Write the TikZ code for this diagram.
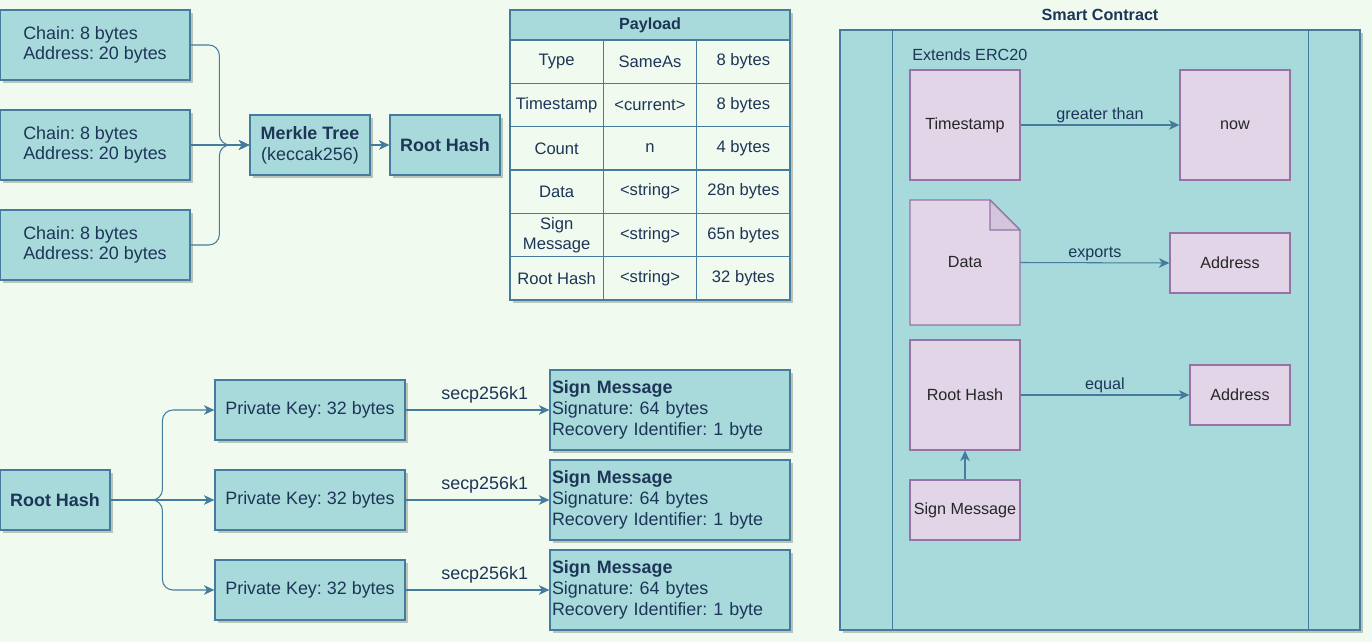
\documentclass[tikz,border=0pt]{standalone}
\usepackage{fontspec}
\setmainfont{Liberation Sans}
\usetikzlibrary{arrows.meta,shadows}
\definecolor{bgcol}{HTML}{F1FAEE}
\definecolor{tealfill}{HTML}{A8DADC}
\definecolor{tealline}{HTML}{457B9D}
\definecolor{navytext}{HTML}{1D3557}
\definecolor{lilacfill}{HTML}{E1D5E7}
\definecolor{lilacline}{HTML}{9673A6}
\definecolor{foldfill}{HTML}{D4C4DC}
\frenchspacing

\begin{document}
\begin{tikzpicture}[x=0.02cm,y=-0.02cm,
	every node/.style={text=navytext},
	shade box/.style={drop shadow={shadow xshift=1.5pt,shadow yshift=-1.5pt,opacity=0.22,fill=black}},
	tbox/.style={draw=tealline,fill=tealfill,line width=0.7pt,shade box,inner sep=0pt,font=\fontsize{10.2}{11.9}\selectfont},
	chainbox/.style={tbox,minimum width=3.8cm,minimum height=1.4cm,align=left,font=\fontsize{10.2}{11.4}\selectfont},
	keybox/.style={tbox,minimum width=3.8cm,minimum height=1.2cm},
	signbox/.style={tbox,minimum width=4.8cm,minimum height=1.6cm,text width=4.72cm,inner xsep=0.04cm,align=left},
	bold/.style={font=\fontsize{10.2}{11.9}\selectfont\bfseries},
	cell/.style={draw=tealline,line width=0.7pt,minimum width=1.8667cm,minimum height=0.8667cm,inner sep=0pt,align=center,font=\fontsize{9.45}{11.4}\selectfont},
	pbox/.style={draw=lilacline,fill=lilacfill,line width=0.7pt,inner sep=1pt,text=black!85,font=\fontsize{9.2}{11}\selectfont},
	small/.style={font=\fontsize{9.2}{11}\selectfont},
	flow/.style={draw=tealline,line width=0.6pt,-{Stealth[length=6pt,width=5.5pt,inset=1.8pt]}},
	lbl/.style={above,inner sep=1pt,small,text=navytext}
	]
	\fill[bgcol] (0,0) rectangle (1372,642);
	\useasboundingbox (0,0) rectangle (1372,642);

	% chains into the merkle tree
	\node (chaina) at (95,45) [chainbox] {Chain: 8 bytes\\Address: 20 bytes};
	\node (chainb) at (95,145) [chainbox] {Chain: 8 bytes\\Address: 20 bytes};
	\node (chainc) at (95,245) [chainbox] {Chain: 8 bytes\\Address: 20 bytes};
	\node (merkle) at (310,145) [tbox,minimum width=2.4cm,minimum height=1.2cm,align=center] {\textbf{Merkle Tree}\\(keccak256)};
	\node (roota) at (445,145) [tbox,bold,minimum width=2.2cm,minimum height=1.2cm] {Root Hash};

	\draw[flow,rounded corners=6pt] (chaina.east) -| ([xshift=-0.6cm]merkle.west) -- (merkle.west);
	\draw[flow] (chainb.east) -- (merkle.west);
	\draw[flow,rounded corners=6pt] (chainc.east) -| ([xshift=-0.6cm]merkle.west) -- (merkle.west);
	\draw[flow] (merkle.east) -- (roota.west);

	% payload table
	\node (payload) at (650,155) [cell,fill=bgcol,shade box,minimum width=5.6cm,minimum height=5.8cm] {};
	\node (head) at (650,25) [cell,fill=tealfill,minimum width=5.6cm,minimum height=0.6cm,font=\fontsize{9.2}{11}\selectfont\bfseries] {Payload};
	\node (typek) at (556.67,61.67) [cell] {Type};
	\node (typev) at (650,61.67) [cell] {SameAs};
	\node (types) at (743.33,61.67) [cell] {8 bytes};
	\node (timek) at (556.67,105) [cell] {Timestamp};
	\node (timev) at (650,105) [cell] {<current>};
	\node (times) at (743.33,105) [cell] {8 bytes};
	\node (countk) at (556.67,148.33) [cell] {Count};
	\node (countv) at (650,148.33) [cell] {n};
	\node (counts) at (743.33,148.33) [cell] {4 bytes};
	\node (datak) at (556.67,191.67) [cell] {Data};
	\node (datav) at (650,191.67) [cell] {<string>};
	\node (datas) at (743.33,191.67) [cell] {28n bytes};
	\node (signk) at (556.67,235) [cell] {Sign\\Message};
	\node (signv) at (650,235) [cell] {<string>};
	\node (signs) at (743.33,235) [cell] {65n bytes};
	\node (rootk) at (556.67,278.33) [cell] {Root Hash};
	\node (rootv) at (650,278.33) [cell] {<string>};
	\node (roots) at (743.33,278.33) [cell] {32 bytes};

	% signing with the private keys
	\node (rootb) at (55,500) [tbox,bold,minimum width=2.2cm,minimum height=1.2cm] {Root Hash};
	\node (keya) at (310,410) [keybox] {Private Key: 32 bytes};
	\node (keyb) at (310,500) [keybox] {Private Key: 32 bytes};
	\node (keyc) at (310,590) [keybox] {Private Key: 32 bytes};
	\node (signa) at (670,410) [signbox] {\textbf{Sign Message}\\Signature: 64 bytes\\Recovery Identifier: 1 byte};
	\node (signb) at (670,500) [signbox] {\textbf{Sign Message}\\Signature: 64 bytes\\Recovery Identifier: 1 byte};
	\node (signc) at (670,590) [signbox] {\textbf{Sign Message}\\Signature: 64 bytes\\Recovery Identifier: 1 byte};

	\draw[flow,rounded corners=6pt] (rootb.east) -| ([xshift=-1.04cm]keya.west) -- (keya.west);
	\draw[flow] (rootb.east) -- (keyb.west);
	\draw[flow,rounded corners=6pt] (rootb.east) -| ([xshift=-1.04cm]keyc.west) -- (keyc.west);
	\draw[flow] (keya.east) -- node[above,pos=0.55,font=\fontsize{10.2}{11.9}\selectfont] {secp256k1} (signa.west);
	\draw[flow] (keyb.east) -- node[above,pos=0.55,font=\fontsize{10.2}{11.9}\selectfont] {secp256k1} (signb.west);
	\draw[flow] (keyc.east) -- node[above,pos=0.55,font=\fontsize{10.2}{11.9}\selectfont] {secp256k1} (signc.west);

	% smart contract
	\node (contract) at (1100,330) [draw=tealline,fill=tealfill,line width=0.7pt,shade box,minimum width=10.4cm,minimum height=12cm] {};
	\node (sctitle) at (1100,15) [font=\fontsize{9.2}{11}\selectfont\bfseries] {Smart Contract};
	\draw[tealline,line width=0.7pt] ([xshift=1.06cm]contract.north west) -- ([xshift=1.06cm]contract.south west);
	\draw[tealline,line width=0.7pt] ([xshift=-1.04cm]contract.north east) -- ([xshift=-1.04cm]contract.south east);
	\node (extends) at (912,55) [anchor=west,inner sep=0pt,small] {Extends ERC20};

	\node (stamp) at (965,125) [pbox,minimum width=2.2cm,minimum height=2.2cm] {Timestamp};
	\node (now) at (1235,125) [pbox,minimum width=2.2cm,minimum height=2.2cm] {now};
	\coordinate (datanw) at (910,200);
	\coordinate (datase) at (1020,325);
	\draw[draw=lilacline,fill=lilacfill,line width=0.7pt] (datanw) -- (990,200) -- (1020,230) -- (datase) -- (910,325) -- cycle;
	\draw[draw=lilacline,fill=foldfill,line width=0.7pt,line join=round] (990,200) -- (990,230) -- (1020,230) -- cycle;
	\node (data) at (965,262.5) [minimum width=2.2cm,minimum height=2.5cm,inner sep=0pt,text=black!85,small] {Data};
	\node (addra) at (1230,263) [pbox,minimum width=2.4cm,minimum height=1.2cm] {Address};
	\node (rootc) at (965,395) [pbox,minimum width=2.2cm,minimum height=2.2cm] {Root Hash};
	\node (addrb) at (1240,395) [pbox,minimum width=2cm,minimum height=1.2cm] {Address};
	\node (signd) at (965,510) [pbox,minimum width=2.2cm,minimum height=1.2cm,inner sep=0pt] {Sign Message};

	\draw[flow] (stamp) -- node[lbl] {greater than} (now);
	\draw[flow] (data.east) -- node[lbl] {exports} (addra.west);
	\draw[flow] (rootc) -- node[lbl] {equal} (addrb);
	\draw[flow] (signd) -- (rootc);
\end{tikzpicture}
\end{document}
